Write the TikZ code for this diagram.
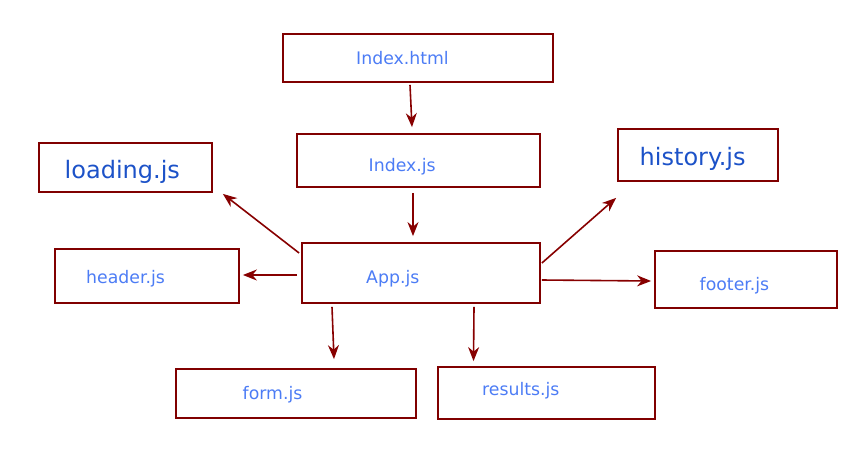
\documentclass[tikz,border=0pt]{standalone}
\usepackage{fontspec}
\setmainfont{DejaVu Sans}
\usetikzlibrary{arrows.meta}
\definecolor{boxred}{RGB}{128,0,0}
\definecolor{arrred}{RGB}{135,0,0}
\definecolor{smallblue}{RGB}{76,124,245}
\definecolor{bigblue}{RGB}{28,82,200}
\tikzset{
  x=1pt,y=-1pt,
  filebox/.style={draw=boxred,line width=1.8pt,rectangle,inner sep=0pt},
  smalltxt/.style={anchor=base west,inner sep=0pt,text=smallblue,font=\fontsize{17.3}{20}\selectfont},
  bigtxt/.style={anchor=base west,inner sep=0pt,text=bigblue,font=\fontsize{24}{28}\selectfont},
  arr/.style={draw=arrred,line width=1.6pt,-{Stealth[length=14pt,width=11pt,inset=4.5pt]}}
}
\begin{document}
\begin{tikzpicture}
\useasboundingbox (0,0) rectangle (860,456);
% boxes
\node[filebox,minimum width=270pt,minimum height=48pt] (html) at (418,58) {};
\node[filebox,minimum width=243pt,minimum height=53pt] (ijs) at (418.5,160.5) {};
\node[filebox,minimum width=238pt,minimum height=60pt] (app) at (421,273) {};
\node[filebox,minimum width=173pt,minimum height=49pt] (loading) at (125.5,167.5) {};
\node[filebox,minimum width=160pt,minimum height=52pt] (history) at (698,155) {};
\node[filebox,minimum width=184pt,minimum height=54pt] (header) at (147,276) {};
\node[filebox,minimum width=182pt,minimum height=57pt] (footer) at (746,279.5) {};
\node[filebox,minimum width=240pt,minimum height=49pt] (form) at (296,393.5) {};
\node[filebox,minimum width=217pt,minimum height=52pt] (results) at (546.5,393) {};
% labels
\node[smalltxt] (thtml) at (356,64) {Index.html};
\node[smalltxt] (tijs) at (368.5,171) {Index.js};
\node[smalltxt] (tapp) at (366,283) {App.js};
\node[bigtxt] (tloading) at (64.5,178) {loading.js};
\node[bigtxt] (thistory) at (639.5,165.5) {history.js};
\node[smalltxt] (theader) at (86,283) {header.js};
\node[smalltxt] (tfooter) at (699.5,290) {footer.js};
\node[smalltxt] (tform) at (242.5,399) {form.js};
\node[smalltxt] (tresults) at (482,395) {results.js};
% connectors
\draw[arr] ([xshift=-8pt,yshift=-2pt]html.south) -- ([xshift=-6.5pt,yshift=6pt]ijs.north);
\draw[arr] ([xshift=-5.5pt,yshift=-5pt]ijs.south) -- ([xshift=-8pt,yshift=6pt]app.north);
\draw[arr] ([xshift=-2pt,yshift=20pt]app.west) -- ([xshift=10pt,yshift=-1pt]loading.south east);
\draw[arr] ([xshift=-4pt,yshift=-2pt]app.west) -- ([xshift=3pt,yshift=1pt]header.east);
\draw[arr] ([xshift=1pt,yshift=10pt]app.east) -- ([xshift=-1pt,yshift=-16pt]history.south west);
\draw[arr] ([xshift=1pt,yshift=-7pt]app.east) -- ([xshift=-3pt,yshift=-1.5pt]footer.west);
\draw[arr] ([xshift=-89pt,yshift=-3pt]app.south) -- ([xshift=38pt,yshift=9pt]form.north);
\draw[arr] ([xshift=53pt,yshift=-3pt]app.south) -- ([xshift=-73pt,yshift=5pt]results.north);
\end{tikzpicture}
\end{document}
